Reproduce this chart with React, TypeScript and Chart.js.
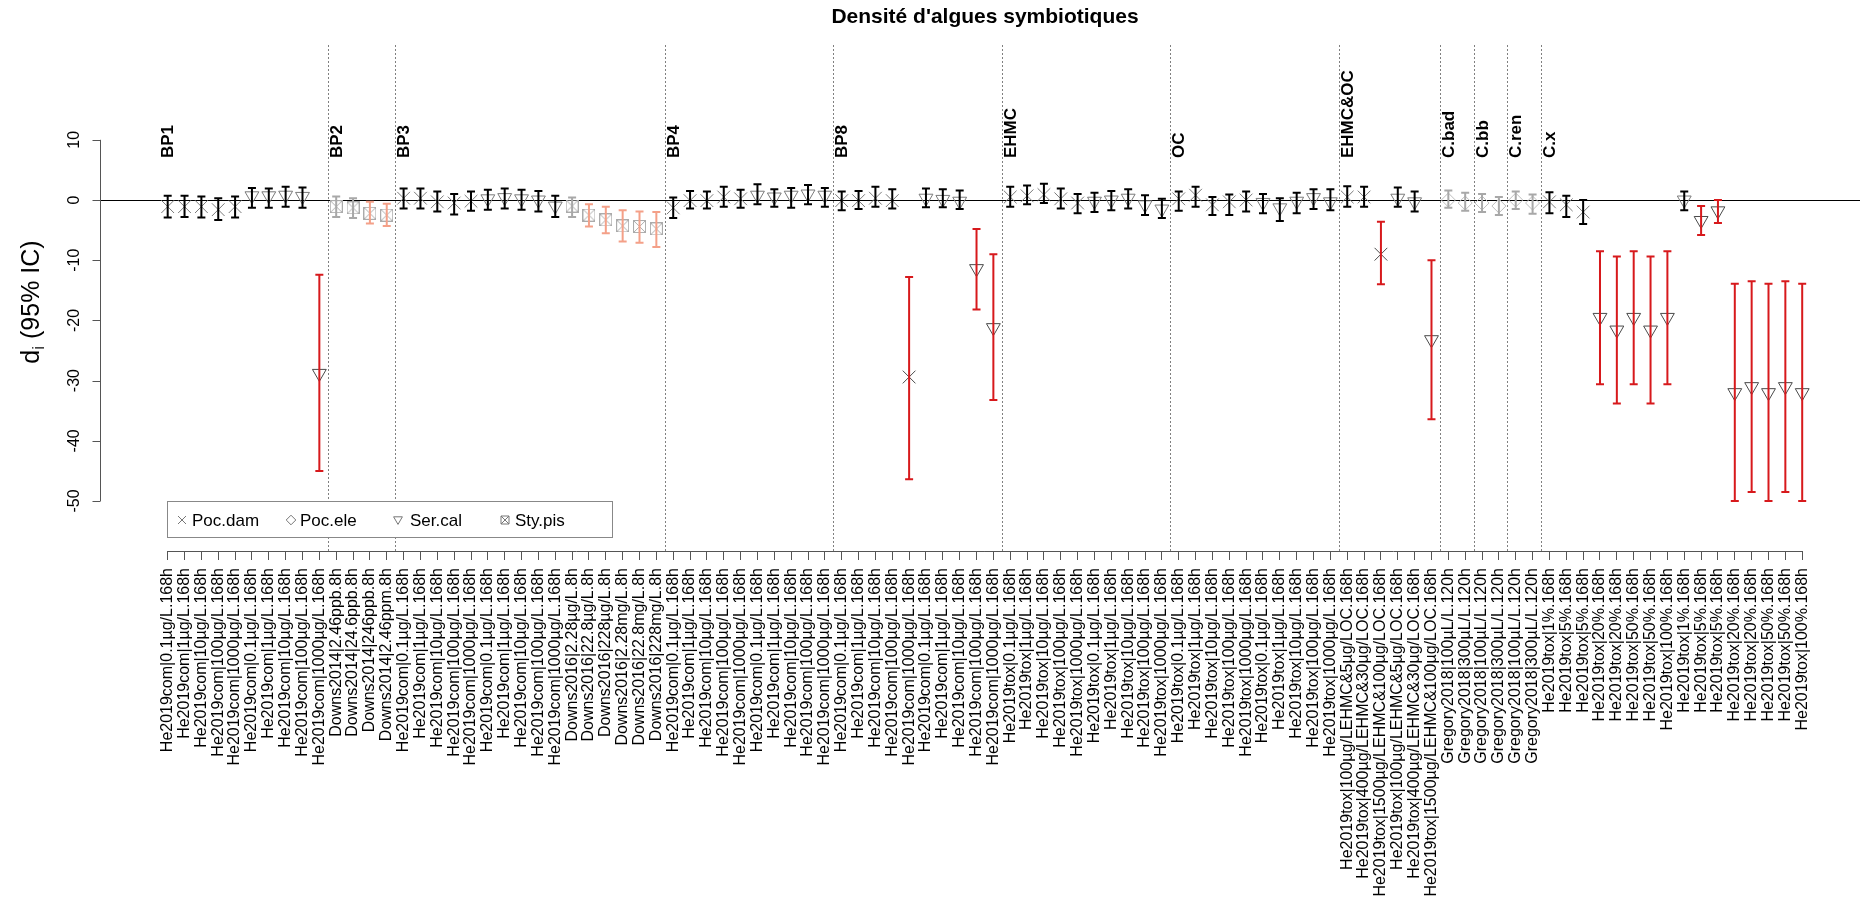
import React, { useEffect, useRef } from 'react';
import { Chart, registerables } from 'chart.js';

Chart.register(...registerables);

const W = 1870;
const H = 908;
const FONT = '"Liberation Sans", Arial, sans-serif';

const categories: string[] = [
  'He2019com|0.1µg/L.168h', 'He2019com|1µg/L.168h', 'He2019com|10µg/L.168h', 'He2019com|100µg/L.168h', 'He2019com|1000µg/L.168h',
  'He2019com|0.1µg/L.168h', 'He2019com|1µg/L.168h', 'He2019com|10µg/L.168h', 'He2019com|100µg/L.168h', 'He2019com|1000µg/L.168h',
  'Downs2014|2.46ppb.8h', 'Downs2014|24.6ppb.8h', 'Downs2014|246ppb.8h', 'Downs2014|2.46ppm.8h',
  'He2019com|0.1µg/L.168h', 'He2019com|1µg/L.168h', 'He2019com|10µg/L.168h', 'He2019com|100µg/L.168h', 'He2019com|1000µg/L.168h',
  'He2019com|0.1µg/L.168h', 'He2019com|1µg/L.168h', 'He2019com|10µg/L.168h', 'He2019com|100µg/L.168h', 'He2019com|1000µg/L.168h',
  'Downs2016|2.28µg/L.8h', 'Downs2016|22.8µg/L.8h', 'Downs2016|228µg/L.8h', 'Downs2016|2.28mg/L.8h', 'Downs2016|22.8mg/L.8h', 'Downs2016|228mg/L.8h',
  'He2019com|0.1µg/L.168h', 'He2019com|1µg/L.168h', 'He2019com|10µg/L.168h', 'He2019com|100µg/L.168h', 'He2019com|1000µg/L.168h',
  'He2019com|0.1µg/L.168h', 'He2019com|1µg/L.168h', 'He2019com|10µg/L.168h', 'He2019com|100µg/L.168h', 'He2019com|1000µg/L.168h',
  'He2019com|0.1µg/L.168h', 'He2019com|1µg/L.168h', 'He2019com|10µg/L.168h', 'He2019com|100µg/L.168h', 'He2019com|1000µg/L.168h',
  'He2019com|0.1µg/L.168h', 'He2019com|1µg/L.168h', 'He2019com|10µg/L.168h', 'He2019com|100µg/L.168h', 'He2019com|1000µg/L.168h',
  'He2019tox|0.1µg/L.168h', 'He2019tox|1µg/L.168h', 'He2019tox|10µg/L.168h', 'He2019tox|100µg/L.168h', 'He2019tox|1000µg/L.168h',
  'He2019tox|0.1µg/L.168h', 'He2019tox|1µg/L.168h', 'He2019tox|10µg/L.168h', 'He2019tox|100µg/L.168h', 'He2019tox|1000µg/L.168h',
  'He2019tox|0.1µg/L.168h', 'He2019tox|1µg/L.168h', 'He2019tox|10µg/L.168h', 'He2019tox|100µg/L.168h', 'He2019tox|1000µg/L.168h',
  'He2019tox|0.1µg/L.168h', 'He2019tox|1µg/L.168h', 'He2019tox|10µg/L.168h', 'He2019tox|100µg/L.168h', 'He2019tox|1000µg/L.168h',
  'He2019tox|100µg/LEHMC&5µg/LOC.168h', 'He2019tox|400µg/LEHMC&30µg/LOC.168h', 'He2019tox|1500µg/LEHMC&100µg/LOC.168h',
  'He2019tox|100µg/LEHMC&5µg/LOC.168h', 'He2019tox|400µg/LEHMC&30µg/LOC.168h', 'He2019tox|1500µg/LEHMC&100µg/LOC.168h',
  'Gregory2018|100µL/L.120h', 'Gregory2018|300µL/L.120h', 'Gregory2018|100µL/L.120h', 'Gregory2018|300µL/L.120h',
  'Gregory2018|100µL/L.120h', 'Gregory2018|300µL/L.120h',
  'He2019tox|1%.168h', 'He2019tox|5%.168h', 'He2019tox|5%.168h', 'He2019tox|20%.168h', 'He2019tox|20%.168h',
  'He2019tox|50%.168h', 'He2019tox|50%.168h', 'He2019tox|100%.168h',
  'He2019tox|1%.168h', 'He2019tox|5%.168h', 'He2019tox|5%.168h', 'He2019tox|20%.168h', 'He2019tox|20%.168h',
  'He2019tox|50%.168h', 'He2019tox|50%.168h', 'He2019tox|100%.168h',
];

const estimates: number[] = [
  -1.1, -1.1, -1.1, -1.6, -1.1, 0.7, 0.7, 0.8, 0.6, -28.8,
  -1.1, -1.3, -2.2, -2.5,
  0.3, 0.3, -0.3, -0.5, -0.2, 0.2, 0.4, 0.2, 0.0, -1.0, -1.0, -2.5, -3.3, -4.3, -4.4, -4.8,
  -1.3, -0.1, -0.1, 0.5, 0.2, 0.8, 0.5, 0.8, 1.0, 0.8,
  -0.1, -0.1, 0.3, -0.1, -29.4, 0.3, 0.1, -0.2, -11.4, -21.2,
  0.5, 0.7, 0.9, 0.2, -0.5, -0.2, 0.0, 0.3, -0.8, -1.5,
  0.2, 0.8, -0.8, -0.3, 0.0, -0.4, -1.3, -0.2, 0.4, -0.3,
  0.5, 0.5, -9.0, 0.3, -0.3, -23.2,
  0.0, -0.5, -0.5, -1.0, 0.0, -0.5,
  -0.3, -0.8, -2.0, -19.5, -21.6, -19.5, -21.6, -19.5,
  0.0, -3.4, -1.8, -32.0, -31.0, -32.0, -31.0, -32.0,
];

const lowerCI: number[] = [
  -2.9, -2.8, -2.9, -3.3, -2.9, -1.3, -1.3, -1.1, -1.3, -45.0,
  -2.8, -3.0, -3.9, -4.3,
  -1.4, -1.4, -1.9, -2.4, -1.8, -1.6, -1.4, -1.6, -1.9, -2.8, -2.8, -4.4, -5.5, -6.9, -7.1, -7.8,
  -3.0, -1.4, -1.4, -1.1, -1.3, -0.7, -1.1, -1.3, -0.7, -1.1,
  -1.7, -1.5, -1.1, -1.4, -46.4, -1.2, -1.2, -1.5, -18.2, -33.2,
  -1.1, -0.7, -0.5, -1.4, -2.2, -2.0, -1.7, -1.4, -2.5, -3.0,
  -1.8, -1.1, -2.5, -2.5, -1.9, -2.2, -3.5, -2.2, -1.5, -1.7,
  -1.1, -1.1, -14.0, -1.1, -1.9, -36.4,
  -1.3, -1.8, -2.0, -2.5, -1.5, -2.3,
  -2.2, -2.8, -4.0, -30.6, -33.8, -30.6, -33.8, -30.6,
  -1.7, -5.8, -3.8, -50.0, -48.5, -50.0, -48.5, -50.0,
];

const upperCI: number[] = [
  0.7, 0.7, 0.6, 0.3, 0.6, 2.0, 1.9, 2.2, 2.1, -12.4,
  0.6, 0.3, -0.3, -0.6,
  1.9, 1.9, 1.4, 1.0, 1.4, 1.7, 1.9, 1.7, 1.5, 0.7, 0.4, -0.7, -1.1, -1.7, -1.9, -2.0,
  0.4, 1.5, 1.4, 2.2, 1.7, 2.6, 1.8, 2.0, 2.5, 2.0,
  1.4, 1.5, 2.2, 1.8, -12.8, 1.9, 1.8, 1.6, -4.8, -9.0,
  2.2, 2.4, 2.7, 1.9, 1.0, 1.2, 1.5, 1.8, 0.8, 0.2,
  1.4, 2.2, 0.5, 0.9, 1.4, 1.0, 0.3, 1.2, 1.8, 1.8,
  2.3, 2.2, -3.6, 2.1, 1.4, -10.0,
  1.6, 1.2, 1.0, 0.5, 1.4, 0.9,
  1.3, 0.7, 0.0, -8.5, -9.4, -8.5, -9.4, -8.5,
  1.4, -1.0, 0.0, -13.9, -13.5, -13.9, -13.5, -13.9,
];

// species code per category: D = Poc.dam, E = Poc.ele, S = Ser.cal, P = Sty.pis
const species: string[] = [
  'D', 'D', 'D', 'D', 'D', 'S', 'S', 'S', 'S', 'S',
  'P', 'P', 'P', 'P',
  'D', 'D', 'D', 'D', 'D', 'S', 'S', 'S', 'S', 'S', 'P', 'P', 'P', 'P', 'P', 'P',
  'D', 'D', 'D', 'D', 'D', 'S', 'S', 'S', 'S', 'S',
  'D', 'D', 'D', 'D', 'D', 'S', 'S', 'S', 'S', 'S',
  'D', 'D', 'D', 'D', 'D', 'S', 'S', 'S', 'S', 'S',
  'D', 'D', 'D', 'D', 'D', 'S', 'S', 'S', 'S', 'S',
  'D', 'D', 'D', 'S', 'S', 'S',
  'E', 'E', 'E', 'E', 'E', 'E',
  'D', 'D', 'D', 'S', 'S', 'S', 'S', 'S',
  'S', 'S', 'S', 'S', 'S', 'S', 'S', 'S',
];

// effect class per category: n = not significant, g = grey, l = light (salmon), s = significant (red)
const effectClass: string[] = [
  'n', 'n', 'n', 'n', 'n', 'n', 'n', 'n', 'n', 's',
  'g', 'g', 'l', 'l',
  'n', 'n', 'n', 'n', 'n', 'n', 'n', 'n', 'n', 'n', 'g', 'l', 'l', 'l', 'l', 'l',
  'n', 'n', 'n', 'n', 'n', 'n', 'n', 'n', 'n', 'n',
  'n', 'n', 'n', 'n', 's', 'n', 'n', 'n', 's', 's',
  'n', 'n', 'n', 'n', 'n', 'n', 'n', 'n', 'n', 'n',
  'n', 'n', 'n', 'n', 'n', 'n', 'n', 'n', 'n', 'n',
  'n', 'n', 's', 'n', 'n', 's',
  'g', 'g', 'g', 'g', 'g', 'g',
  'n', 'n', 'n', 's', 's', 's', 's', 's',
  'n', 's', 's', 's', 's', 's', 's', 's',
];

const groupNames: string[] = ['BP1', 'BP2', 'BP3', 'BP4', 'BP8', 'EHMC', 'OC', 'EHMC&OC', 'C.bad', 'C.bb', 'C.ren', 'C.x'];
const groupStarts: number[] = [0, 10, 14, 30, 40, 50, 60, 70, 76, 78, 80, 82];

const yTickValues: number[] = [-50, -40, -30, -20, -10, 0, 10];
const speciesCodes: string[] = ['D', 'E', 'S', 'P'];
const speciesNames: string[] = ['Poc.dam', 'Poc.ele', 'Ser.cal', 'Sty.pis'];

const barColors: Record<string, string> = { n: '#000000', g: '#a8a8a8', l: '#f4a088', s: '#d7191c' };
const markerColors: Record<string, string> = { n: '#7a7a7a', g: '#bdbdbd', l: '#bdbdbd', s: '#4a4a4a' };

const X_MIN = -4.017;
const X_MAX = 100.43;
const Y_MIN = -58.3;
const Y_MAX = 25.75;

function makeBoxX(color: string, size: number): HTMLCanvasElement {
  const c = document.createElement('canvas');
  c.width = size;
  c.height = size;
  const g = c.getContext('2d')!;
  g.strokeStyle = color;
  g.lineWidth = 1;
  g.strokeRect(0.5, 0.5, size - 1, size - 1);
  g.beginPath();
  g.moveTo(1, 1);
  g.lineTo(size - 1, size - 1);
  g.moveTo(size - 1, 1);
  g.lineTo(1, size - 1);
  g.stroke();
  return c;
}

function drawSymbol(ctx: CanvasRenderingContext2D, code: string, x: number, y: number, r: number, color: string) {
  ctx.save();
  ctx.strokeStyle = color;
  ctx.lineWidth = 1;
  ctx.beginPath();
  if (code === 'D') {
    ctx.moveTo(x - r, y - r); ctx.lineTo(x + r, y + r);
    ctx.moveTo(x + r, y - r); ctx.lineTo(x - r, y + r);
  } else if (code === 'E') {
    ctx.moveTo(x, y - r * 1.2); ctx.lineTo(x + r * 1.2, y); ctx.lineTo(x, y + r * 1.2); ctx.lineTo(x - r * 1.2, y); ctx.closePath();
  } else if (code === 'S') {
    ctx.moveTo(x - r * 1.1, y - r * 0.8); ctx.lineTo(x + r * 1.1, y - r * 0.8); ctx.lineTo(x, y + r * 1.1); ctx.closePath();
  } else {
    ctx.rect(x - r, y - r, 2 * r, 2 * r);
    ctx.moveTo(x - r, y - r); ctx.lineTo(x + r, y + r);
    ctx.moveTo(x + r, y - r); ctx.lineTo(x - r, y + r);
  }
  ctx.stroke();
  ctx.restore();
}

const overlayPlugin = {
  id: 'overlay',
  beforeDatasetsDraw(chart: any) {
    const { ctx, chartArea, scales } = chart;
    const x = scales.x;
    const y = scales.y;
    ctx.save();
    ctx.strokeStyle = '#808080';
    ctx.lineWidth = 1;
    ctx.setLineDash([2, 2]);
    groupStarts.slice(1).forEach((s) => {
      const px = Math.round(x.getPixelForValue(s - 0.5)) + 0.5;
      ctx.beginPath();
      ctx.moveTo(px, chartArea.top);
      ctx.lineTo(px, chartArea.bottom);
      ctx.stroke();
    });
    ctx.setLineDash([]);
    const py0 = Math.round(y.getPixelForValue(0)) + 0.5;
    ctx.strokeStyle = '#000';
    ctx.beginPath();
    ctx.moveTo(chartArea.left, py0);
    ctx.lineTo(chartArea.right, py0);
    ctx.stroke();
    ctx.restore();
  },
  afterDatasetsDraw(chart: any) {
    const { ctx, scales } = chart;
    const x = scales.x;
    const y = scales.y;
    ctx.save();
    ctx.lineWidth = 2;
    for (let i = 0; i < categories.length; i++) {
      const px = x.getPixelForValue(i);
      const top = y.getPixelForValue(upperCI[i]);
      const bot = y.getPixelForValue(lowerCI[i]);
      ctx.strokeStyle = barColors[effectClass[i]];
      ctx.beginPath();
      ctx.moveTo(px, top);
      ctx.lineTo(px, bot);
      ctx.moveTo(px - 4, top);
      ctx.lineTo(px + 4, top);
      ctx.moveTo(px - 4, bot);
      ctx.lineTo(px + 4, bot);
      ctx.stroke();
    }
    ctx.restore();
  },
  afterDraw(chart: any) {
    const { ctx, chartArea, scales } = chart;
    const x = scales.x;
    const y = scales.y;
    ctx.save();
    ctx.strokeStyle = '#555';
    ctx.lineWidth = 1;
    const by = chartArea.bottom + 0.5;
    ctx.beginPath();
    ctx.moveTo(x.getPixelForValue(0), by);
    ctx.lineTo(x.getPixelForValue(categories.length - 1), by);
    ctx.stroke();

    const ax = chartArea.left + 0.5;
    ctx.beginPath();
    ctx.moveTo(ax, y.getPixelForValue(yTickValues[yTickValues.length - 1]));
    ctx.lineTo(ax, y.getPixelForValue(yTickValues[0]));
    yTickValues.forEach((v) => {
      const py = Math.round(y.getPixelForValue(v)) + 0.5;
      ctx.moveTo(ax, py);
      ctx.lineTo(ax - 8, py);
    });
    ctx.stroke();
    ctx.fillStyle = '#000';
    ctx.font = `16px ${FONT}`;
    ctx.textAlign = 'center';
    ctx.textBaseline = 'alphabetic';
    yTickValues.forEach((v) => {
      const py = y.getPixelForValue(v);
      ctx.save();
      ctx.translate(79, py);
      ctx.rotate(-Math.PI / 2);
      ctx.fillText(String(v), 0, 0);
      ctx.restore();
    });

    ctx.save();
    ctx.translate(39, 302);
    ctx.rotate(-Math.PI / 2);
    ctx.textAlign = 'left';
    ctx.font = `25px ${FONT}`;
    const wd = ctx.measureText('d').width;
    const rest = ' (95% IC)';
    const wr = ctx.measureText(rest).width;
    ctx.font = `17px ${FONT}`;
    const wi = ctx.measureText('i').width;
    const total = wd + wi + wr;
    let cx = -total / 2;
    ctx.font = `25px ${FONT}`;
    ctx.fillText('d', cx, 0);
    cx += wd;
    ctx.font = `17px ${FONT}`;
    ctx.fillText('i', cx, 5);
    cx += wi;
    ctx.font = `25px ${FONT}`;
    ctx.fillText(rest, cx, 0);
    ctx.restore();

    ctx.font = `bold 17px ${FONT}`;
    ctx.textAlign = 'left';
    ctx.textBaseline = 'middle';
    groupNames.forEach((name, k) => {
      const px = x.getPixelForValue(groupStarts[k]);
      ctx.save();
      ctx.translate(px, 158);
      ctx.rotate(-Math.PI / 2);
      ctx.fillText(name, 0, 1);
      ctx.restore();
    });

    ctx.font = `bold 21px "Liberation Sans Narrow", "Arial Narrow", ${FONT}`;
    ctx.textAlign = 'center';
    ctx.textBaseline = 'middle';
    ctx.fillText("Densité d'algues symbiotiques", 985, 17);

    const lx = 167.5, ly = 501.5, lw = 445, lh = 36;
    ctx.fillStyle = '#fff';
    ctx.fillRect(lx, ly, lw, lh);
    ctx.strokeStyle = '#888';
    ctx.lineWidth = 1;
    ctx.strokeRect(lx, ly, lw, lh);
    const symX = [182, 291, 398, 505];
    const txtX = [192, 300, 410, 515];
    const midY = 520;
    ctx.font = `17px ${FONT}`;
    ctx.textAlign = 'left';
    ctx.textBaseline = 'middle';
    speciesCodes.forEach((code, k) => {
      drawSymbol(ctx, code, symX[k], midY, 4, '#777');
      ctx.fillStyle = '#000';
      ctx.fillText(speciesNames[k], txtX[k], midY + 1);
    });
    ctx.restore();
  },
};

export default function App() {
  const canvasRef = useRef<HTMLCanvasElement | null>(null);

  useEffect(() => {
    document.body.style.margin = '0';
    const canvas = canvasRef.current;
    if (!canvas) return;
    const boxImg = makeBoxX('#ababab', 13);

    const styleFor: Record<string, any> = {
      D: { pointStyle: 'crossRot', pointRadius: 9, rotation: 0 },
      E: { pointStyle: 'rectRot', pointRadius: 7, rotation: 0 },
      S: { pointStyle: 'triangle', pointRadius: 8, rotation: 180 },
      P: { pointStyle: boxImg, pointRadius: 7, rotation: 0 },
    };

    const datasets = speciesCodes.map((code, k) => {
      const idx = categories.map((_, i) => i).filter((i) => species[i] === code);
      const st = styleFor[code];
      return {
        label: speciesNames[k],
        data: idx.map((i) => ({ x: i, y: estimates[i] })),
        pointStyle: st.pointStyle,
        pointRadius: st.pointRadius,
        pointRotation: st.rotation,
        pointBorderWidth: 1,
        pointBorderColor: idx.map((i) => markerColors[effectClass[i]]),
        pointBackgroundColor: 'rgba(0,0,0,0)',
        showLine: false,
      };
    });

    const chart = new Chart(canvas, {
      type: 'scatter',
      data: { datasets: datasets as any },
      options: {
        responsive: false,
        animation: false,
        events: [],
        layout: { padding: { left: 0, right: 2, top: 45, bottom: 0 } },
        plugins: {
          legend: { display: false },
          tooltip: { enabled: false },
          title: { display: false },
        },
        scales: {
          x: {
            type: 'linear',
            min: X_MIN,
            max: X_MAX,
            afterBuildTicks: (s: any) => {
              s.ticks = categories.map((_, i) => ({ value: i }));
            },
            afterFit: (s: any) => {
              s.height = H - 551;
            },
            grid: { display: true, drawOnChartArea: false, drawTicks: true, tickLength: 9, color: '#555', lineWidth: 1 },
            border: { display: false },
            ticks: {
              autoSkip: false,
              minRotation: 90,
              maxRotation: 90,
              padding: 8,
              color: '#000',
              font: { family: FONT, size: 16 },
              callback: (v: any) => categories[Math.round(Number(v))] ?? '',
            },
          },
          y: {
            type: 'linear',
            min: Y_MIN,
            max: Y_MAX,
            afterFit: (s: any) => {
              s.width = 100;
            },
            grid: { display: false },
            border: { display: false },
            ticks: { display: false },
          },
        },
      } as any,
      plugins: [overlayPlugin],
    });

    return () => {
      chart.destroy();
    };
  }, []);

  return (
    <div style={{ width: W, height: H, background: '#fff' }}>
      <canvas ref={canvasRef} width={W} height={H} style={{ display: 'block' }} />
    </div>
  );
}
